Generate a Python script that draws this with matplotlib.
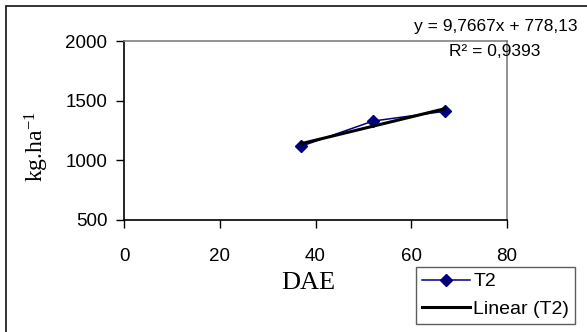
import numpy as np
import matplotlib
matplotlib.use("Agg")
import matplotlib.pyplot as plt
from matplotlib.patches import Rectangle
from matplotlib.lines import Line2D

# Data
dae = [37, 52, 67]
t2 = [1118, 1329, 1411]
series_label = "T2"
trend_label = "Linear (T2)"
eq_text = "y = 9,7667x + 778,13"
r2_text = "R\u00b2 = 0,9393"
x_ticks = [0, 20, 40, 60, 80]
y_ticks = [500, 1000, 1500, 2000]

plt.rcParams['font.family'] = ['Liberation Sans', 'DejaVu Sans']
plt.rcParams['mathtext.fontset'] = 'custom'
plt.rcParams['mathtext.rm'] = 'Liberation Serif'
plt.rcParams['mathtext.it'] = 'Liberation Serif'

W, H = 587, 332
fig = plt.figure(figsize=(W / 100, H / 100), dpi=100)
ax = fig.add_axes([124 / W, 1 - 220 / H, (507 - 124) / W, (220 - 41) / H])

ax.plot(dae, t2, color='#000080', lw=1.1, marker='D', markersize=6,
        markerfacecolor='#000080', markeredgecolor='#000080', zorder=3)
coef = np.polyfit(dae, t2, 1)
xs = np.array([min(dae), max(dae)])
ax.plot(xs, np.polyval(coef, xs), color='black', lw=2.2, zorder=4)

ax.set_xlim(0, 80)
ax.set_ylim(500, 2000)
ax.set_xticks(x_ticks)
ax.set_yticks(y_ticks)
ax.tick_params(axis='both', direction='out', length=6, width=1, color='black',
               labelsize=13.5)
ax.tick_params(axis='y', pad=6)
ax.tick_params(axis='x', pad=14)
for s in ['left', 'bottom']:
    ax.spines[s].set_color('black')
    ax.spines[s].set_linewidth(1.2)
for s in ['top', 'right']:
    ax.spines[s].set_color('#808080')
    ax.spines[s].set_linewidth(1.2)

ax.set_xlabel('DAE', family='Liberation Serif', fontsize=19)
ax.xaxis.set_label_coords((308 - 124) / 383, (49 - 112) / 179)
ax.xaxis.label.set_va('center')
ax.set_ylabel(r'kg.ha$^{\mathregular{-1}}$', family='Liberation Serif', fontsize=17)
ax.yaxis.set_label_coords((37 - 124) / 383, (185 - 112) / 179)
ax.yaxis.label.set_va('center')

fig.text(577 / W, 1 - 27 / H, eq_text, ha='right', va='center', fontsize=12.5)
fig.text(495 / W, 1 - 52 / H, r2_text, ha='center', va='center', fontsize=12.5)

# outer chart frame
fig.add_artist(Rectangle((6 / W, -0.1), 1.2, 1 - 6 / H + 0.1, transform=fig.transFigure,
                         fill=False, edgecolor='#222222', lw=1.3, clip_on=False))

handles = [Line2D([], [], color='#000080', lw=1.1, marker='D', markersize=6,
                  markerfacecolor='#000080', markeredgecolor='#000080'),
           Line2D([], [], color='black', lw=2.2)]
leg = fig.legend(handles, [series_label, trend_label], loc='upper left',
                 bbox_to_anchor=(416 / W, 1 - 267 / H), fontsize=14,
                 frameon=True, fancybox=False, shadow=False, borderpad=0.3,
                 handlelength=2.5, handletextpad=0.15, labelspacing=0.5,
                 borderaxespad=0)
leg.get_frame().set_edgecolor('#333333')
leg.get_frame().set_linewidth(1.0)

fig.savefig('out.png', dpi=100)
